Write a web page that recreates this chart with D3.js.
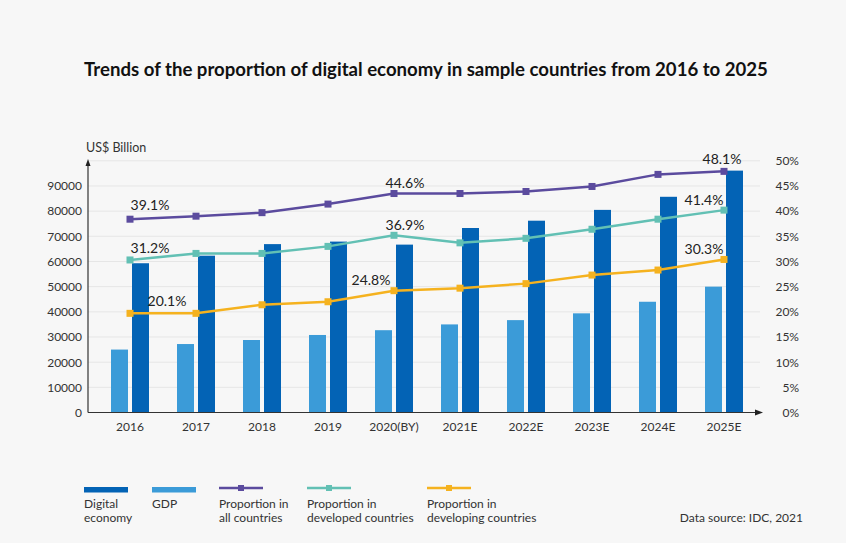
<!DOCTYPE html>
<html>
<head>
<meta charset="utf-8">
<script src="https://cdn.jsdelivr.net/npm/d3@7"></script>
<style>
  body { margin: 0; background: #f7f7f7; }
  svg { display: block; font-family: Lato, "Noto Sans", sans-serif; }
</style>
</head>
<body>
<div id="chart"></div>
<script>
let years = ["2016", "2017", "2018", "2019", "2020(BY)", "2021E", "2022E", "2023E", "2024E", "2025E"];
let digitalEconomy = [59300, 62300, 66900, 67900, 66700, 73300, 76200, 80500, 85700, 96100];
let gdp = [25000, 27200, 28800, 30800, 32700, 35000, 36700, 39400, 44000, 50000];
let shareAll = [38.4, 39.0, 39.7, 41.4, 43.5, 43.5, 43.9, 44.9, 47.3, 47.9];
let shareDeveloped = [30.3, 31.6, 31.6, 33.0, 35.2, 33.7, 34.6, 36.4, 38.4, 40.2];
let shareDeveloping = [19.7, 19.7, 21.4, 22.0, 24.2, 24.7, 25.6, 27.3, 28.3, 30.4];
let labelsAll = ["39.1%", null, null, null, "44.6%", null, null, null, null, "48.1%"];
let labelsDeveloped = ["31.2%", null, null, null, "36.9%", null, null, null, null, "41.4%"];
let labelsDeveloping = [null, "20.1%", null, null, "24.8%", null, null, null, null, "30.3%"];
let leftTicks = [0, 10000, 20000, 30000, 40000, 50000, 60000, 70000, 80000, 90000];
let rightTicks = [0, 5, 10, 15, 20, 25, 30, 35, 40, 45, 50];

let width = 846,
    height = 543;

let colors = {
    digital: "#0363b5",
    gdp: "#3b9bd8",
    all: "#5b4b9e",
    developed: "#62c0b4",
    developing: "#f5b21f"
}

let svg = d3.select("#chart").append("svg")
    .attr("width", width)
    .attr("height", height)

svg.append("rect").attr("width", width).attr("height", height).attr("fill", "#f7f7f7")

svg.append("text")
    .attr("x", 426)
    .attr("y", 76)
    .attr("text-anchor", "middle")
    .attr("font-size", 18.6)
    .attr("font-weight", "bold")
    .attr("fill", "#111")
    .text("Trends of the proportion of digital economy in sample countries from 2016 to 2025")

let x = d3.scaleBand().domain(years).range([97, 757])
let yLeft = d3.scaleLinear().domain([0, 100000]).range([412.5, 160.8])
let yRight = d3.scaleLinear().domain([0, 50]).range([412.5, 160.8])
let cx = d => x(d) + x.bandwidth() / 2

// grid
svg.append("g").selectAll("line")
    .data(leftTicks.slice(1).concat([100000]))
    .join("line")
    .attr("x1", 88).attr("x2", 760)
    .attr("y1", d => yLeft(d)).attr("y2", d => yLeft(d))
    .attr("stroke", "#e6e6e6")
    .attr("stroke-width", 1)

// bars
svg.append("g").selectAll("rect")
    .data(gdp)
    .join("rect")
    .attr("x", (d, i) => cx(years[i]) - 19)
    .attr("width", 17)
    .attr("y", d => yLeft(d))
    .attr("height", d => yLeft(0) - yLeft(d))
    .attr("fill", colors.gdp)

svg.append("g").selectAll("rect")
    .data(digitalEconomy)
    .join("rect")
    .attr("x", (d, i) => cx(years[i]) + 2)
    .attr("width", 17)
    .attr("y", d => yLeft(d))
    .attr("height", d => yLeft(0) - yLeft(d))
    .attr("fill", colors.digital)

// axes
let leftAxis = svg.append("g")
    .attr("transform", "translate(88,0)")
    .call(d3.axisLeft(yLeft).tickValues(leftTicks).tickSize(0).tickPadding(6).tickFormat(d3.format("d")))
leftAxis.select(".domain").remove()

let rightAxis = svg.append("g")
    .attr("transform", "translate(799,0)")
    .call(d3.axisLeft(yRight).tickValues(rightTicks).tickSize(0).tickPadding(0).tickFormat(d => d + "%"))
rightAxis.select(".domain").remove()

let bottomAxis = svg.append("g")
    .attr("transform", "translate(0,412.5)")
    .call(d3.axisBottom(x).tickSize(0).tickPadding(10))
bottomAxis.select(".domain").remove()

svg.selectAll(".tick text")
    .attr("font-family", "Lato, 'Noto Sans', sans-serif")
    .attr("font-size", 12)
    .attr("fill", "#333")

svg.append("line")
    .attr("x1", 88).attr("x2", 88).attr("y1", 412.5).attr("y2", 165)
    .attr("stroke", "#333").attr("stroke-width", 1.2)
svg.append("path")
    .attr("d", "M88,159 L85.5,166 L90.5,166 Z")
    .attr("fill", "#222")
svg.append("line")
    .attr("x1", 88).attr("x2", 756).attr("y1", 412.5).attr("y2", 412.5)
    .attr("stroke", "#333").attr("stroke-width", 1.2)
svg.append("path")
    .attr("d", "M763,412.5 L755,409.5 L755,415.5 Z")
    .attr("fill", "#222")

svg.append("text")
    .attr("x", 86)
    .attr("y", 152)
    .attr("font-size", 12.5)
    .attr("fill", "#333")
    .text("US$ Billion")

// lines
let series = [
    {values: shareAll, labels: labelsAll, color: colors.all,
        offsets: {0: [20, -9], 4: [11, -6], 9: [-2, -7]}},
    {values: shareDeveloped, labels: labelsDeveloped, color: colors.developed,
        offsets: {0: [20, -7], 4: [11, -5], 9: [-20, -5]}},
    {values: shareDeveloping, labels: labelsDeveloping, color: colors.developing,
        offsets: {1: [-29, -7], 4: [-23, -6], 9: [-20, -5]}}
]

let line = d3.line()
    .x((d, i) => cx(years[i]))
    .y(d => yRight(d))

series.forEach(s => {
    let g = svg.append("g")
    g.append("path")
        .datum(s.values)
        .attr("d", line)
        .attr("fill", "none")
        .attr("stroke", s.color)
        .attr("stroke-width", 2.5)
    g.selectAll("rect")
        .data(s.values)
        .join("rect")
        .attr("x", (d, i) => cx(years[i]) - 3.5)
        .attr("y", d => yRight(d) - 3.5)
        .attr("width", 7)
        .attr("height", 7)
        .attr("fill", s.color)
    g.selectAll("text")
        .data(s.values.map((v, i) => ({v: v, i: i, label: s.labels[i]})).filter(d => d.label))
        .join("text")
        .attr("x", d => cx(years[d.i]) + s.offsets[d.i][0])
        .attr("y", d => yRight(d.v) + s.offsets[d.i][1])
        .attr("text-anchor", "middle")
        .attr("font-size", 14)
        .attr("fill", "#222")
        .text(d => d.label)
})

// legend
let legendItems = [
    {type: "bar", color: colors.digital, x: 84, text: ["Digital", "economy"]},
    {type: "bar", color: colors.gdp, x: 152, text: ["GDP"]},
    {type: "line", color: colors.all, x: 219, text: ["Proportion in", "all countries"]},
    {type: "line", color: colors.developed, x: 307, text: ["Proportion in", "developed countries"]},
    {type: "line", color: colors.developing, x: 427, text: ["Proportion in", "developing countries"]}
]

let legend = svg.append("g")
legendItems.forEach(item => {
    if (item.type == "bar") {
        legend.append("rect")
            .attr("x", item.x).attr("y", 487)
            .attr("width", 44).attr("height", 5.5)
            .attr("fill", item.color)
    } else {
        legend.append("line")
            .attr("x1", item.x).attr("x2", item.x + 44)
            .attr("y1", 488).attr("y2", 488)
            .attr("stroke", item.color).attr("stroke-width", 2.5)
        legend.append("rect")
            .attr("x", item.x + 19).attr("y", 485)
            .attr("width", 6).attr("height", 6)
            .attr("fill", item.color)
    }
    item.text.forEach((t, k) => {
        legend.append("text")
            .attr("x", item.x)
            .attr("y", 508 + k * 14)
            .attr("font-size", 12)
            .attr("fill", "#333")
            .text(t)
    })
})

svg.append("text")
    .attr("x", 803)
    .attr("y", 522)
    .attr("text-anchor", "end")
    .attr("font-size", 12)
    .attr("fill", "#333")
    .text("Data source: IDC, 2021")
</script>
</body>
</html>
